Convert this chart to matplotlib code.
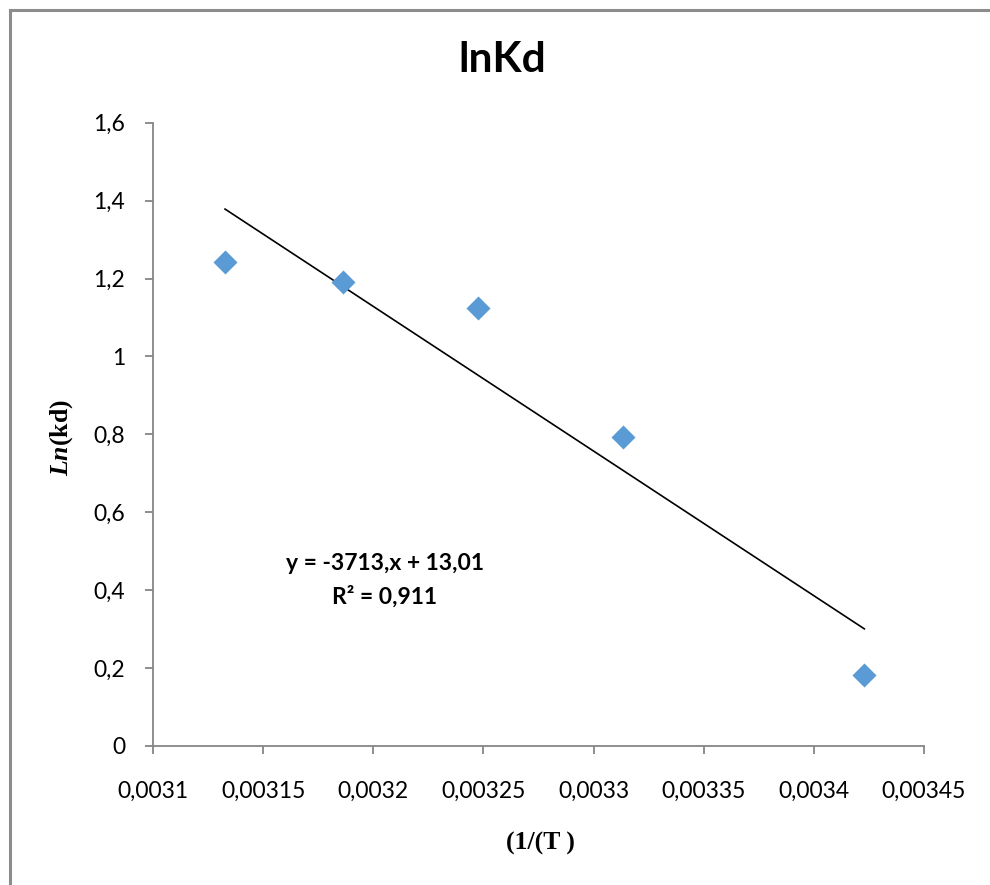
import matplotlib
matplotlib.use("Agg")
import matplotlib.pyplot as plt
from matplotlib.lines import Line2D
import numpy as np

# Inverse temperature (1/K) and ln(Kd)
inv_T = [0.0031327, 0.0031864, 0.0032474, 0.0033132, 0.0034229]
ln_kd = [1.243, 1.192, 1.125, 0.794, 0.182]

# Linear trendline coefficients as reported on the chart
slope = -3713.0
intercept = 13.01
r_squared = 0.911

x_ticks = [0.0031, 0.00315, 0.0032, 0.00325, 0.0033, 0.00335, 0.0034, 0.00345]
x_tick_labels = ["0,0031", "0,00315", "0,0032", "0,00325", "0,0033", "0,00335", "0,0034", "0,00345"]
y_ticks = [0, 0.2, 0.4, 0.6, 0.8, 1.0, 1.2, 1.4, 1.6]
y_tick_labels = ["0", "0,2", "0,4", "0,6", "0,8", "1", "1,2", "1,4", "1,6"]

# serif math for the axis-label variable
plt.rcParams["mathtext.fontset"] = "custom"
plt.rcParams["mathtext.rm"] = "Liberation Serif"
plt.rcParams["mathtext.it"] = "Liberation Serif:italic"
plt.rcParams["mathtext.bf"] = "Liberation Serif:bold"
plt.rcParams["mathtext.bfit"] = "Liberation Serif:italic:bold"

W, H = 990, 885
fig = plt.figure(figsize=(W / 100, H / 100), dpi=100)
fig.patch.set_facecolor("white")

# outer chart frame (left and top edges visible)
frame_col = "#8c8c8c"
fig.add_artist(Line2D([9.5 / W, 9.5 / W], [0, 1 - 9.5 / H], transform=fig.transFigure,
                      color=frame_col, lw=2.2, solid_capstyle="projecting"))
fig.add_artist(Line2D([9.5 / W, 1.0], [1 - 9.5 / H, 1 - 9.5 / H], transform=fig.transFigure,
                      color=frame_col, lw=2.2, solid_capstyle="projecting"))

left, right = 153 / W, 924 / W
bottom, top = 1 - 746 / H, 1 - 122.7 / H
ax = fig.add_axes([left, bottom, right - left, top - bottom])

sans = "Lato"
axis_col = "#868686"

ax.set_xlim(x_ticks[0], x_ticks[-1])
ax.set_ylim(y_ticks[0], y_ticks[-1])

ax.scatter(inv_T, ln_kd, marker="D", s=150, color="#5B9BD5", zorder=3, linewidths=0)

xs = np.array([inv_T[0], inv_T[-1]])
ax.plot(xs, slope * xs + intercept, color="black", lw=1.2, zorder=2)

for side in ("top", "right"):
    ax.spines[side].set_visible(False)
for side in ("left", "bottom"):
    ax.spines[side].set_color(axis_col)
    ax.spines[side].set_linewidth(1.3)

ax.set_xticks(x_ticks)
ax.set_xticklabels(x_tick_labels, fontfamily=sans, fontsize=16.5)
ax.set_yticks(y_ticks)
ax.set_yticklabels(y_tick_labels, fontfamily=sans, fontsize=16.5)
ax.tick_params(axis="both", direction="out", length=6, width=1.3, color=axis_col)
ax.tick_params(axis="x", pad=19)
ax.tick_params(axis="y", pad=14)

fig.text(502 / W, 1 - 60 / H, "lnKd", ha="center", va="center",
         fontfamily=sans, fontweight="bold", fontsize=30.5)

ax.text(385 / W, 1 - 563 / H, f"y = {slope:.0f},x + {intercept:.2f}".replace(".", ","),
        transform=fig.transFigure, ha="center", va="center",
        fontfamily=sans, fontweight="bold", fontsize=16.5)
ax.text(385 / W, 1 - 597 / H, f"R² = {r_squared}".replace(".", ","),
        transform=fig.transFigure, ha="center", va="center",
        fontfamily=sans, fontweight="bold", fontsize=16.5)

fig.text(540 / W, 1 - 843 / H, "(1/(T )", ha="center", va="center",
         fontfamily="Liberation Serif", fontweight="bold", fontsize=18.5)
fig.text(62 / W, 1 - 438 / H, r"$\mathbfit{Ln}$(kd)", ha="center", va="center", rotation=90,
         fontfamily="Liberation Serif", fontweight="bold", fontsize=18.5)

fig.savefig("out.png", dpi=100, facecolor="white")
